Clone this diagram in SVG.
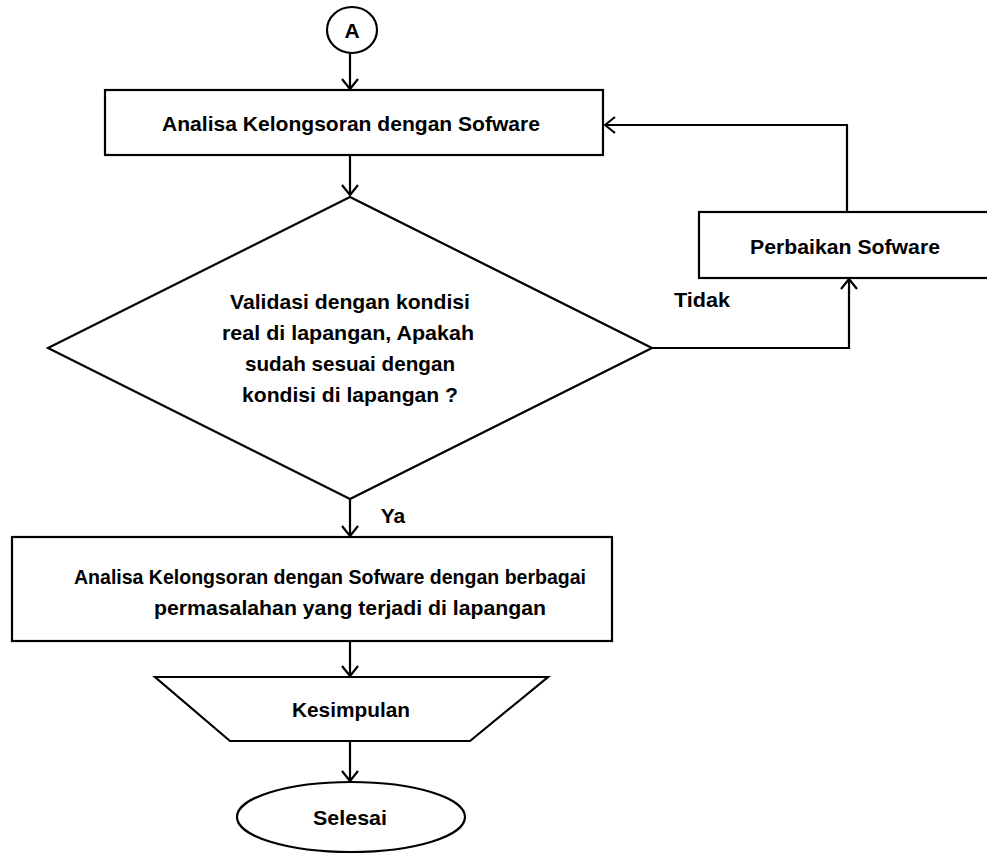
<svg xmlns="http://www.w3.org/2000/svg" width="987" height="854" viewBox="0 0 987 854">
<style>
.s{fill:#fff;stroke:#000;stroke-width:2.2}
.c{fill:none;stroke:#000;stroke-width:2.2;marker-end:url(#ar)}
text{font-family:"Liberation Sans",Arial,sans-serif;font-weight:bold;font-size:21px;fill:#000;text-anchor:middle}
</style>
<defs>
<marker id="ar" markerUnits="userSpaceOnUse" viewBox="0 0 12 18" refX="11" refY="9" markerWidth="12" markerHeight="18" orient="auto">
<path d="M1,1 L11,9 L1,17" fill="none" stroke="#000" stroke-width="2.2"/>
</marker>
</defs>
<rect width="987" height="854" fill="#fff"/>
<g id="connectors">
<line class="c" x1="350" y1="53" x2="350" y2="89"/>
<line class="c" x1="350" y1="155" x2="350" y2="195"/>
<line class="c" x1="350" y1="500" x2="350" y2="536"/>
<line class="c" x1="350" y1="641" x2="350" y2="676"/>
<line class="c" x1="350" y1="741" x2="350" y2="781"/>
<polyline class="c" points="652,348 849,348 849,279"/>
<polyline class="c" points="847,212 847,125 605,125"/>
</g>
<g id="nodeA"><ellipse class="s" cx="352" cy="30" rx="25" ry="23"/><text x="352" y="38" font-size="22">A</text></g>
<g id="box1"><rect class="s" x="105" y="90" width="498" height="65"/><text x="351" y="131" textLength="378" lengthAdjust="spacingAndGlyphs">Analisa Kelongsoran dengan Sofware</text></g>
<g id="decision"><polygon class="s" points="350,197 652,348 350,499 48,348"/>
<text x="350" y="309" textLength="240" lengthAdjust="spacingAndGlyphs">Validasi dengan kondisi</text>
<text x="348" y="340" textLength="252" lengthAdjust="spacingAndGlyphs">real di lapangan, Apakah</text>
<text x="350" y="371" textLength="210" lengthAdjust="spacingAndGlyphs">sudah sesuai dengan</text>
<text x="350" y="402" textLength="216" lengthAdjust="spacingAndGlyphs">kondisi di lapangan ?</text>
</g>
<g id="fix"><rect class="s" x="699" y="212" width="300" height="66"/><text x="845" y="254" textLength="190" lengthAdjust="spacingAndGlyphs">Perbaikan Sofware</text></g>
<g id="labelTidak"><text x="702" y="307" textLength="56" lengthAdjust="spacingAndGlyphs">Tidak</text></g>
<g id="labelYa"><text x="393" y="523">Ya</text></g>
<g id="box3"><rect class="s" x="12" y="537" width="600" height="104"/>
<text x="330" y="584" textLength="512" lengthAdjust="spacingAndGlyphs">Analisa Kelongsoran dengan Sofware dengan berbagai</text>
<text x="350" y="615" textLength="392" lengthAdjust="spacingAndGlyphs">permasalahan yang terjadi di lapangan</text>
</g>
<g id="kesimpulan"><polygon class="s" points="155,677 548,677 470,741 230,741"/><text x="351" y="717" textLength="118" lengthAdjust="spacingAndGlyphs">Kesimpulan</text></g>
<g id="selesai"><ellipse class="s" cx="351" cy="817" rx="114" ry="35"/><text x="350" y="825" textLength="74" lengthAdjust="spacingAndGlyphs">Selesai</text></g>
</svg>
